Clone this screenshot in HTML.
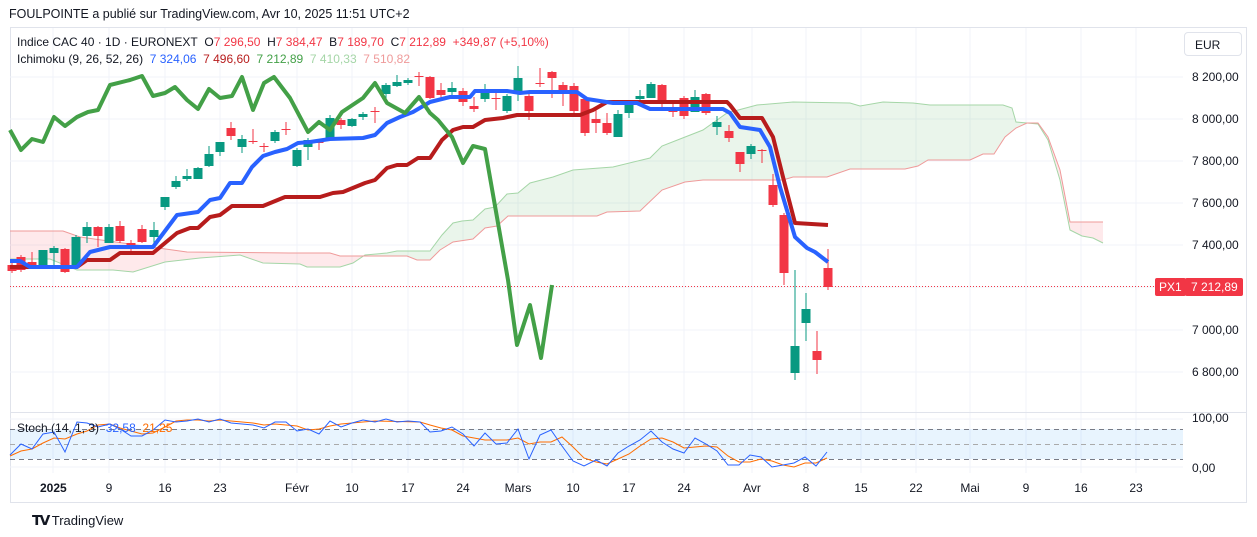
<!DOCTYPE html>
<html><head><meta charset="utf-8">
<style>
body{margin:0;width:1257px;height:537px;background:#fff;font-family:"Liberation Sans",sans-serif;overflow:hidden;position:relative}
.t{position:absolute;white-space:nowrap;font-size:12px;color:#131722}
</style></head><body>
<div class="t" style="left:9px;top:7px;font-size:12.5px">FOULPOINTE a publié sur TradingView.com, Avr 10, 2025 11:51 UTC+2</div>
<svg id="c" width="1257" height="537" style="position:absolute;left:0;top:0"></svg>
<div class="t" style="left:17px;top:35px">Indice CAC 40 · 1D · EURONEXT&nbsp; <span>O</span><span style="color:#F23645">7 296,50</span>&nbsp; H<span style="color:#F23645">7 384,47</span>&nbsp; B<span style="color:#F23645">7 189,70</span>&nbsp; C<span style="color:#F23645">7 212,89</span>&nbsp; <span style="color:#F23645">+349,87 (+5,10%)</span></div>
<div class="t" style="left:17px;top:52px">Ichimoku (9, 26, 52, 26)&nbsp; <span style="color:#2962FF">7 324,06</span>&nbsp; <span style="color:#B71C1C">7 496,60</span>&nbsp; <span style="color:#43A047">7 212,89</span>&nbsp; <span style="color:#A5D6A7">7 410,33</span>&nbsp; <span style="color:#EF9A9A">7 510,82</span></div>
<div class="t" style="left:17px;top:421px">Stoch (14, 1, 3)&nbsp; <span style="color:#2962FF">32,58</span>&nbsp; <span style="color:#FF6D00">21,25</span></div>
<div class="t" style="left:1184px;top:32px;width:58px;height:24px;border:1px solid #e0e3eb;border-radius:4px;box-sizing:border-box;padding:5px 0 0 10px">EUR</div>
<div class="t" style="left:1192px;top:70px">8 200,00</div>
<div class="t" style="left:1192px;top:112px">8 000,00</div>
<div class="t" style="left:1192px;top:154px">7 800,00</div>
<div class="t" style="left:1192px;top:196px">7 600,00</div>
<div class="t" style="left:1192px;top:238px">7 400,00</div>
<div class="t" style="left:1192px;top:323px">7 000,00</div>
<div class="t" style="left:1192px;top:365px">6 800,00</div>
<div class="t" style="left:1192px;top:411px">100,00</div>
<div class="t" style="left:1192px;top:461px">0,00</div>
<div class="t" style="left:1155px;top:278px;background:#F23645;color:#fff;padding:2px 4px;border-radius:2px">PX1</div>
<div class="t" style="left:1185px;top:278px;width:58px;background:#F23645;color:#fff;padding:2px 0 2px 6px;box-sizing:border-box;border-radius:2px">7 212,89</div>
<div class="t" style="left:40px;top:481px;font-weight:bold">2025</div>
<div id="xl"></div>
<div class="t" style="left:32px;top:512px;font-size:13px"><b style="font-size:14px;letter-spacing:-2px">𝗧𝗩</b> TradingView</div>
<script>
const S='http://www.w3.org/2000/svg',svg=document.getElementById('c');
function el(n,a){const e=document.createElementNS(S,n);for(const k in a)e.setAttribute(k,a[k]);svg.appendChild(e);return e}
// frame
el('rect',{x:10.5,y:27.5,width:1236,height:475,fill:'none',stroke:'#e0e3eb'});
const gx=[53,109,165,220,297,352,408,463,518,573,629,684,752,806,861,916,970,1026,1081,1136];
gx.forEach(x=>el('line',{x1:x,x2:x,y1:28,y2:473,stroke:'#f0f3fa'}));
[77,119,161,203,245,287,330,372,419,467].forEach(y=>el('line',{x1:10,x2:1183,y1:y,y2:y,stroke:'#f0f3fa'}));
el('line',{x1:10,x2:1247,y1:412.5,y2:412.5,stroke:'#e0e3eb'});
const labs=[[109,'9'],[165,'16'],[220,'23'],[297,'Févr'],[352,'10'],[408,'17'],[463,'24'],[518,'Mars'],[573,'10'],[629,'17'],[684,'24'],[752,'Avr'],[806,'8'],[861,'15'],[916,'22'],[970,'Mai'],[1026,'9'],[1081,'16'],[1136,'23']];
let h='';labs.forEach(([x,t])=>{h+=`<div class="t" style="left:${x-30}px;width:60px;text-align:center;top:481px">${t}</div>`});document.getElementById('xl').innerHTML=h;
function P(a){return a.map(p=>p.join(',')).join(' ')}
// cloud
const A=[[10,259],[50,259],[77,270],[113,270],[133,272],[165,262],[200,258],[240,255],[263,263],[300,264],[307,267],[340,267],[353,263],[365,255],[387,253],[397,251],[430,251],[442,235],[453,223],[462,221],[473,220],[485,209],[495,207],[507,194],[518,193],[530,183],[553,177],[573,170],[613,167],[650,158],[662,146],[680,139],[703,130],[727,113],[757,105],[793,102],[850,103],[860,106],[883,102],[913,103],[930,105],[1003,105],[1012,108],[1016,122],[1027,123],[1038,124],[1048,140],[1060,180],[1070,230],[1082,236],[1093,238],[1103,243]];
const B=[[10,231],[63,231],[80,237],[187,252],[290,253],[330,253],[340,256],[407,256],[417,260],[430,260],[440,250],[453,242],[473,239],[485,228],[497,226],[508,216],[597,216],[607,212],[640,211],[662,190],[685,182],[703,180],[783,180],[793,177],[827,177],[850,169],[905,169],[918,166],[928,160],[970,160],[983,154],[994,154],[1005,137],[1016,128],[1027,123],[1038,123],[1048,137],[1060,170],[1070,222],[1103,222]];
const poly=P(A)+' '+P(B.slice().reverse());
const d=el('defs',{});
d.innerHTML='<clipPath id="g"><rect x="365" y="0" width="662" height="537"/></clipPath><clipPath id="r"><rect x="0" y="0" width="365" height="537"/><rect x="1027" y="0" width="200" height="537"/></clipPath>';
el('polygon',{points:poly,fill:'rgba(67,160,71,0.11)','clip-path':'url(#g)'});
el('polygon',{points:poly,fill:'rgba(242,54,69,0.11)','clip-path':'url(#r)'});
el('polyline',{points:P(A),fill:'none',stroke:'#A5D6A7','stroke-width':1});
el('polyline',{points:P(B),fill:'none',stroke:'#EF9A9A','stroke-width':1});
// candles [x,o,c,h,l] in px
const C=[[12,265,271,262,273],[21,257,270,255,272],[32,262,266,252,268],[43,269,250,250,269],[54,253,248,246,269],[65,249,272,248,273],[76,266,237,235,266],[87,236,227,222,243],[98,227,236,226,247],[109,243,227,224,243],[120,226,241,221,243],[131,243,245,240,255],[142,229,242,225,243],[154,237,230,222,243],[165,207,197,197,210],[176,187,181,176,189],[187,179,176,169,181],[198,179,168,167,179],[209,166,154,146,167],[220,152,142,142,156],[231,128,136,122,140],[242,147,139,135,153],[253,141,141,129,144],[264,146,146,143,152],[275,141,132,130,143],[286,129,129,122,135],[297,166,150,148,167],[308,147,140,138,160],[319,142,142,140,150],[330,138,118,115,138],[341,120,125,118,129],[352,126,119,118,127],[363,117,114,112,120],[375,111,111,107,123],[386,94,85,83,99],[397,86,82,75,87],[408,83,80,78,85],[419,76,76,72,86],[430,77,98,76,99],[441,90,95,83,98],[452,92,88,82,95],[463,91,102,88,106],[474,106,109,97,112],[485,99,90,84,102],[496,98,98,92,110],[507,111,96,94,113],[518,92,78,66,101],[529,96,111,92,120],[540,83,83,68,87],[552,72,78,71,98],[563,85,94,82,106],[574,86,111,83,113],[585,99,133,96,136],[596,119,123,107,133],[607,123,133,113,135],[618,137,114,110,137],[629,113,104,102,118],[640,99,96,90,102],[651,98,84,82,98],[662,85,101,84,107],[673,107,112,103,117],[684,98,116,96,119],[695,112,97,90,112],[706,94,113,93,115],[717,127,122,116,135],[729,131,138,125,142],[740,152,164,152,172],[751,154,146,144,159],[762,150,150,149,163],[773,185,205,174,207],[784,215,273,213,285],[795,373,346,270,380],[806,323,309,293,341],[817,351,360,331,374],[828,268,287,249,290]];
C.forEach(([x,o,c,hh,l])=>{const col=c<o?'#089981':'#F23645';
el('line',{x1:x,x2:x,y1:hh,y2:l,stroke:col,'stroke-width':1});
const t=Math.min(o,c),b=Math.max(o,c);el('rect',{x:x-4.5,y:t,width:9,height:Math.max(1,b-t),fill:col});});
// price line
el('line',{x1:10,x2:1155,y1:286.5,y2:286.5,stroke:'#F23645','stroke-dasharray':'1,2'});
// ichimoku lines
const K=[[10,267],[77,267],[87,260],[110,260],[120,253],[153,253],[177,233],[190,228],[198,228],[210,217],[220,215],[232,206],[263,206],[285,197],[320,197],[333,193],[343,192],[365,183],[375,180],[387,168],[397,165],[407,165],[418,158],[430,158],[442,140],[453,130],[463,127],[473,127],[485,120],[503,118],[517,115],[580,115],[593,110],[607,102],[727,102],[730,105],[740,118],[762,118],[773,137],[783,177],[795,223],[828,225]];
const T=[[10,261],[20,261],[30,267],[77,267],[90,252],[110,247],[153,247],[177,215],[198,212],[210,200],[220,198],[230,183],[242,183],[252,167],[263,156],[275,152],[287,149],[298,143],[310,142],[330,139],[363,138],[375,135],[387,123],[400,117],[413,112],[430,102],[450,97],[470,97],[475,91],[507,91],[520,93],[530,92],[577,92],[587,99],[613,103],[637,103],[650,109],[723,109],[730,113],[740,127],[760,130],[770,147],[780,187],[795,237],[807,248],[815,252],[828,262]];
const G=[[10,130],[21,150],[32,139],[43,142],[54,117],[65,126],[77,117],[88,112],[98,110],[110,85],[130,80],[142,76],[153,96],[165,93],[175,87],[187,100],[198,109],[209,89],[220,98],[232,96],[242,77],[253,110],[264,83],[274,77],[290,98],[308,132],[319,122],[330,130],[342,112],[363,98],[375,83],[387,103],[405,113],[419,97],[430,113],[438,120],[452,137],[463,163],[473,146],[485,149],[508,280],[517,345],[530,305],[541,358],[552,285]];
el('polyline',{points:P(K),fill:'none',stroke:'#B71C1C','stroke-width':4,'stroke-linejoin':'round'});
el('polyline',{points:P(T),fill:'none',stroke:'#2962FF','stroke-width':4,'stroke-linejoin':'round'});
el('polyline',{points:P(G),fill:'none',stroke:'#43A047','stroke-width':4,'stroke-linejoin':'round'});
// stoch
el('rect',{x:10,y:429,width:1173,height:30,fill:'rgba(33,150,243,0.1)'});
[[429,'#787b86'],[444,'#aaa'],[459,'#787b86']].forEach(([y,c])=>el('line',{x1:10,x2:1183,y1:y+.5,y2:y+.5,stroke:c,'stroke-dasharray':'5,4'}));
const SB=[[10,455],[21,444],[32,449],[43,434],[54,432],[65,452],[77,422],[87,423],[98,427],[110,424],[120,429],[131,436],[142,436],[153,430],[165,420],[176,422],[187,421],[198,419],[209,422],[220,419],[231,423],[242,424],[253,425],[264,428],[275,422],[286,422],[297,431],[308,429],[319,434],[330,421],[341,427],[352,423],[363,420],[375,422],[386,419],[397,422],[408,421],[420,422],[430,432],[441,431],[452,427],[463,434],[474,446],[485,433],[496,444],[507,443],[518,429],[529,459],[540,435],[551,430],[562,446],[573,461],[584,466],[596,460],[607,466],[618,453],[629,446],[640,440],[651,431],[662,442],[673,449],[684,453],[695,438],[706,444],[717,451],[728,465],[739,465],[750,455],[761,457],[772,467],[783,465],[794,463],[805,457],[816,466],[827,452]];
const SO=[[10,456],[21,451],[32,449],[43,443],[54,438],[65,439],[77,434],[87,431],[98,425],[110,424],[120,428],[131,431],[142,434],[153,433],[165,427],[176,421],[187,420],[198,420],[209,421],[220,420],[231,421],[242,422],[253,423],[264,425],[275,424],[286,425],[297,426],[308,430],[319,429],[330,426],[341,424],[352,423],[363,422],[375,421],[420,422],[430,425],[441,428],[452,430],[463,436],[474,438],[485,440],[507,440],[518,438],[529,444],[540,442],[551,442],[562,437],[573,447],[584,458],[596,462],[607,464],[618,459],[629,454],[640,446],[651,439],[662,438],[673,442],[684,448],[695,447],[706,446],[717,447],[728,456],[739,462],[750,462],[761,459],[772,461],[783,465],[794,467],[805,463],[816,463],[827,458]];
el('polyline',{points:P(SO),fill:'none',stroke:'#FF6D00','stroke-width':1});
el('polyline',{points:P(SB),fill:'none',stroke:'#2962FF','stroke-width':1});
</script>
</body></html>
